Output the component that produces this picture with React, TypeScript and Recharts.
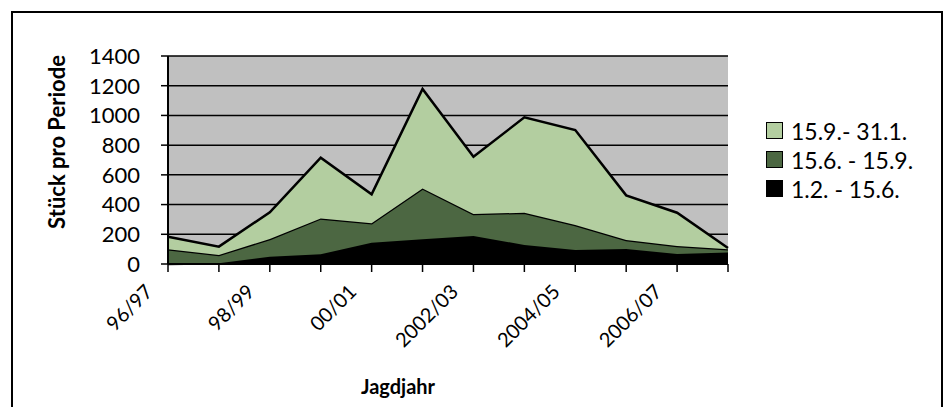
import React from "react";
import { Area, AreaChart, CartesianGrid, XAxis, YAxis } from "recharts";

const FONT = "Lato, 'Open Sans', sans-serif";

// Jagdjahre (x axis)
const seasons = [
  "96/97",
  "97/98",
  "98/99",
  "99/00",
  "00/01",
  "01/02",
  "2002/03",
  "2003/04",
  "2004/05",
  "2005/06",
  "2006/07",
  "2007/08",
];

// Stück pro Periode
const early = [0, 5, 49, 65, 143, 166, 188, 128, 94, 101, 67, 78];
const summer = [99, 56, 119, 242, 131, 343, 148, 217, 168, 60, 54, 22];
const autumn = [85, 56, 180, 409, 195, 669, 386, 642, 640, 301, 224, 8];

const yTicks = [0, 200, 400, 600, 800, 1000, 1200, 1400];

const series = [
  { key: "early", name: "1.2. - 15.6.", color: "#000000" },
  { key: "summer", name: "15.6. - 15.9.", color: "#4c6742" },
  { key: "autumn", name: "15.9.- 31.1.", color: "#b3cea0" },
];

const data = seasons.map((s, i) => ({
  season: s,
  early: early[i],
  summer: summer[i],
  autumn: autumn[i],
}));

const SeasonTick = (props: any) => {
  const { x, y, payload, index } = props;
  // only every other season gets a label, like the original
  if (index % 2 === 1) return <g />;
  const px = x - 14;
  const py = y + 19;
  return (
    <text
      x={px}
      y={py}
      transform={`rotate(-45 ${px} ${py})`}
      textAnchor="end"
      fontSize={20}
      fontFamily={FONT}
      fill="#000"
    >
      {payload.value}
    </text>
  );
};

// legend drawn outside the chart so it doesn't eat plot space
const LegendBox = () => (
  <div
    style={{
      position: "absolute",
      left: 766,
      top: 116,
      fontFamily: FONT,
      fontSize: 23,
      color: "#000",
    }}
  >
    {[...series].reverse().map((s) => (
      <div
        key={s.key}
        style={{ display: "flex", alignItems: "center", height: 29 }}
      >
        <div
          style={{
            width: 15,
            height: 15,
            background: s.color,
            border: "1.5px solid #000",
            marginRight: 8,
          }}
        />
        <span>{s.name}</span>
      </div>
    ))}
  </div>
);

export default function App() {
  return (
    <div
      style={{
        position: "absolute",
        left: 0,
        top: 0,
        width: 946,
        height: 407,
        overflow: "hidden",
        background: "#fff",
      }}
    >
      <div
        style={{
          position: "absolute",
          left: 11,
          top: 11,
          width: 928,
          height: 420,
          border: "2px solid #000",
        }}
      />
      <AreaChart
        width={946}
        height={407}
        data={data}
        margin={{ top: 56, right: 218, bottom: 83, left: 108 }}
        style={{ position: "absolute", left: 0, top: 0 }}
      >
        <CartesianGrid
          vertical={false}
          stroke="#000"
          strokeWidth={1.5}
          fill="#c0c0c0"
          fillOpacity={1}
        />
        <XAxis
          dataKey="season"
          interval={0}
          height={60}
          tick={<SeasonTick />}
          tickSize={8}
          axisLine={{ stroke: "#000", strokeWidth: 2 }}
          tickLine={{ stroke: "#000", strokeWidth: 1.5 }}
        />
        <YAxis
          domain={[0, 1400]}
          ticks={yTicks}
          interval={0}
          width={60}
          tickSize={7}
          tickMargin={21}
          tick={{ fontSize: 22, fill: "#000", fontFamily: FONT }}
          axisLine={{ stroke: "#000", strokeWidth: 2 }}
          tickLine={{ stroke: "#000", strokeWidth: 1.5 }}
        />
        <YAxis
          yAxisId="frame"
          orientation="right"
          width={0}
          tick={false}
          tickLine={false}
          axisLine={{ stroke: "#555", strokeWidth: 1.5 }}
        />
        {series.map((s) => (
          <Area
            key={s.key}
            type="linear"
            dataKey={s.key}
            name={s.name}
            stackId="a"
            fill={s.color}
            fillOpacity={1}
            stroke="#000"
            strokeWidth={2.5}
            isAnimationActive={false}
          />
        ))}
      </AreaChart>
      <LegendBox />
      <div
        style={{
          position: "absolute",
          left: 56,
          top: 142,
          transform: "translate(-50%, -50%) rotate(-90deg)",
          whiteSpace: "nowrap",
          fontFamily: FONT,
          fontWeight: 700,
          fontSize: 22,
          color: "#000",
        }}
      >
        Stück pro Periode
      </div>
      <div
        style={{
          position: "absolute",
          left: 398,
          top: 386,
          transform: "translate(-50%, -50%)",
          whiteSpace: "nowrap",
          fontFamily: FONT,
          fontWeight: 700,
          fontSize: 20,
          color: "#000",
        }}
      >
        Jagdjahr
      </div>
    </div>
  );
}
